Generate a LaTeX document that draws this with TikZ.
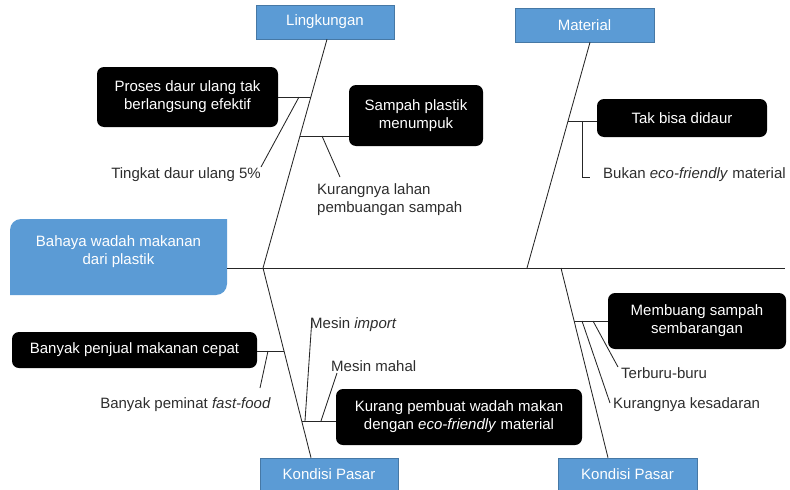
\documentclass[tikz,border=0pt]{standalone}
\usepackage{fontspec}
\setmainfont{Liberation Sans}
\usetikzlibrary{calc,backgrounds}
\definecolor{catblue}{RGB}{91,155,213}
\definecolor{catedge}{RGB}{70,120,165}
\definecolor{txtgray}{RGB}{45,45,45}
\begin{document}
\begin{tikzpicture}[x=1pt,y=-1pt,
  font=\fontsize{15}{18}\selectfont,
  cat/.style={draw=catedge, fill=catblue, text=white, line width=0.6pt, inner sep=0pt},
  cause/.style={fill=black, rounded corners=7pt, text=white, inner sep=0pt, align=center},
  note/.style={text=txtgray, inner sep=1pt, align=left},
  bone/.style={line width=0.85pt, draw=black!85}]
\useasboundingbox (0,0) rectangle (790,490);

% head
\node[text=white, align=center, inner sep=0pt] (head) at (118.5,251.5) {Bahaya wadah makanan\\dari plastik};
\begin{scope}[on background layer]
  \fill[catblue] (10,295) -- (10,230) .. controls (10,224) and (15,219) .. (21,219)
    -- (227,219) -- (227,284) .. controls (227,290) and (222,295) .. (216,295) -- cycle;
\end{scope}

% categories
\node[cat, minimum width=138pt, minimum height=34pt] (ling) at (325,22) {Lingkungan};
\node[cat, minimum width=139pt, minimum height=34pt] (mat) at (584.5,25) {Material};
\node[cat, minimum width=138pt, minimum height=32pt] (kp1) at (329,474) {Kondisi Pasar};
\node[cat, minimum width=139pt, minimum height=32pt] (kp2) at (627.5,474) {Kondisi Pasar};

% causes
\node[cause, minimum width=181pt, minimum height=60pt] (proses) at (187.5,97) {Proses daur ulang tak\\berlangsung efektif};
\node[cause, minimum width=134pt, minimum height=61pt] (sampah) at (416,115.5) {Sampah plastik\\menumpuk};
\node[cause, minimum width=170pt, minimum height=38pt] (tak) at (682,118) {Tak bisa didaur};
\node[cause, minimum width=245pt, minimum height=36pt] (penjual) at (134.5,350) {Banyak penjual makanan cepat};
\node[cause, minimum width=246pt, minimum height=56pt] (kurang) at (459,417) {Kurang pembuat wadah makan\\dengan \textit{eco-friendly} material};
\node[cause, minimum width=178pt, minimum height=56pt] (membuang) at (697,321) {Membuang sampah\\sembarangan};

% notes
\node[note, anchor=east] (tingkat) at (262,175) {Tingkat daur ulang 5\%};
\node[note, anchor=west] (lahan) at (316,200) {Kurangnya lahan\\pembuangan sampah};
\node[note, anchor=west] (bukan) at (602,175) {Bukan \textit{eco-friendly} material};
\node[note, anchor=east] (peminat) at (272,405) {Banyak peminat \textit{fast-food}};
\node[note, anchor=west] (import) at (309,325) {Mesin \textit{import}};
\node[note, anchor=west] (mahal) at (330,366) {Mesin mahal};
\node[note, anchor=west] (terburu) at (620,373) {Terburu-buru};
\node[note, anchor=west] (sadar) at (612,405) {Kurangnya kesadaran};

% spine and junctions
\coordinate (S0) at (227,268);
\coordinate (S1) at (785,268);
\coordinate (J1) at (263,268);
\coordinate (J2) at (527,268);
\coordinate (J3) at (561,268);
\draw[bone] (S0) -- (S1);

% bones
\draw[bone] (J1) -- ([xshift=2pt]ling.south);
\draw[bone] (J2) -- ([xshift=5.5pt]mat.south);
\draw[bone] (J1) -- ([xshift=-18pt]kp1.north);
\draw[bone] (J3) -- ([xshift=-19.5pt]kp2.north);

% Lingkungan branches
\coordinate (a1) at (310.8,97);
\coordinate (a2) at (299,97);
\coordinate (a3) at (261,167);
\draw[bone] (proses.east) -- (a1);
\draw[bone] (a2) -- (a3);
\coordinate (b1) at (300,136);
\coordinate (b2) at (322,136);
\coordinate (b3) at (340,177);
\draw[bone] (b1) -- (b1 -| sampah.west);
\draw[bone] (b2) -- (b3);

% Material branches
\coordinate (c1) at (568,121);
\coordinate (c2) at (582,121);
\coordinate (c3) at (582,177);
\coordinate (c4) at (590,177);
\draw[bone] (c1) -- (c1 -| tak.west);
\draw[bone] (c2) -- (c3) -- (c4);

% Kondisi Pasar (left) branches
\coordinate (d1) at (284,351);
\coordinate (d2) at (268,351);
\coordinate (d3) at (260,388);
\draw[bone] (d1) -- (d1 -| penjual.east);
\draw[bone] (d2) -- (d3);
\coordinate (e1) at (302,421);
\coordinate (e2) at (305,421);
\coordinate (e3) at (312,318);
\coordinate (e4) at (321,421);
\coordinate (e5) at (337,373);
\draw[bone] (e1) -- (e1 -| kurang.west);
\draw[bone] (e2) -- (e3);
\draw[bone] (e4) -- (e5);

% Kondisi Pasar (right) branches
\coordinate (f1) at (574,321);
\coordinate (f2) at (593,321);
\coordinate (f3) at (618,367);
\coordinate (f4) at (582,321);
\coordinate (f5) at (610,403);
\draw[bone] (f1) -- (f1 -| membuang.west);
\draw[bone] (f2) -- (f3);
\draw[bone] (f4) -- (f5);
\end{tikzpicture}
\end{document}
